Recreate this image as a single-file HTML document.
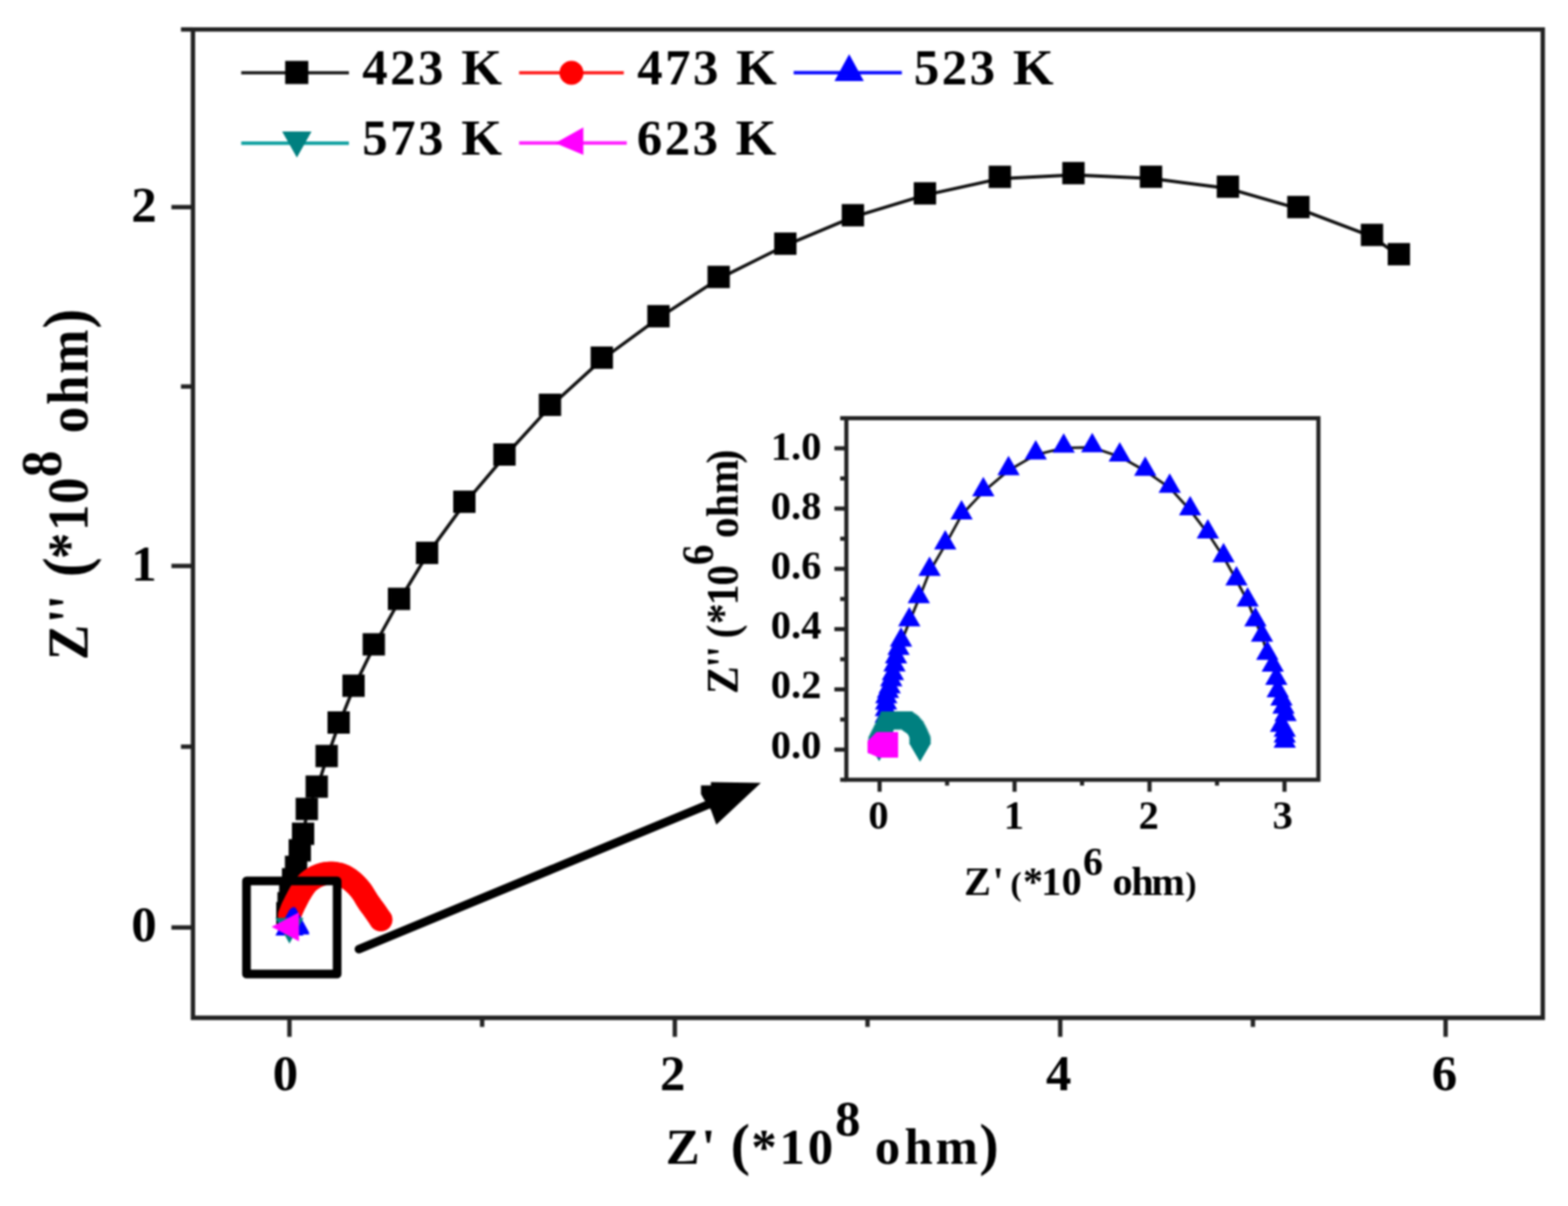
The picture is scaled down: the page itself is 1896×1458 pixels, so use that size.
<!DOCTYPE html>
<html><head><meta charset="utf-8"><title>Nyquist plot</title>
<style>html,body{margin:0;padding:0;background:#fff;} svg{display:block;}</style></head>
<body><svg width="1896" height="1458" viewBox="0 0 1896 1458"><defs><filter id="soft" filterUnits="userSpaceOnUse" x="0" y="0" width="1896" height="1458" color-interpolation-filters="sRGB"><feGaussianBlur stdDeviation="1.0"/></filter></defs><rect width="1896" height="1458" fill="#fff"/><g filter="url(#soft)"><path d="M233.3,35.6 H1865.5 V1230.5 H233.3 Z" fill="none" stroke="#222" stroke-width="5.3" stroke-linejoin="miter"/>
<line x1="207.3" y1="1121.30" x2="233.3" y2="1121.30" stroke="#222" stroke-width="5.3"/>
<line x1="207.3" y1="684.20" x2="233.3" y2="684.20" stroke="#222" stroke-width="5.3"/>
<line x1="207.3" y1="250.40" x2="233.3" y2="250.40" stroke="#222" stroke-width="5.3"/>
<line x1="218.8" y1="902.70" x2="233.3" y2="902.70" stroke="#222" stroke-width="5.3"/>
<line x1="218.8" y1="467.30" x2="233.3" y2="467.30" stroke="#222" stroke-width="5.3"/>
<line x1="218.8" y1="35.6" x2="233.3" y2="35.6" stroke="#222" stroke-width="5.3"/>
<line x1="350.00" y1="1230.5" x2="350.00" y2="1253.5" stroke="#222" stroke-width="5.3"/>
<line x1="816.00" y1="1230.5" x2="816.00" y2="1253.5" stroke="#222" stroke-width="5.3"/>
<line x1="1282.00" y1="1230.5" x2="1282.00" y2="1253.5" stroke="#222" stroke-width="5.3"/>
<line x1="1748.00" y1="1230.5" x2="1748.00" y2="1253.5" stroke="#222" stroke-width="5.3"/>
<line x1="583.00" y1="1230.5" x2="583.00" y2="1241.5" stroke="#222" stroke-width="5.3"/>
<line x1="1049.00" y1="1230.5" x2="1049.00" y2="1241.5" stroke="#222" stroke-width="5.3"/>
<line x1="1515.00" y1="1230.5" x2="1515.00" y2="1241.5" stroke="#222" stroke-width="5.3"/>
<text x="189.6" y="1138.3" text-anchor="end" style="font-family:'Liberation Serif','Times New Roman',serif;font-weight:bold;font-size:61.5px">0</text>
<text x="189.6" y="702.0" text-anchor="end" style="font-family:'Liberation Serif','Times New Roman',serif;font-weight:bold;font-size:61.5px">1</text>
<text x="189.6" y="268.1" text-anchor="end" style="font-family:'Liberation Serif','Times New Roman',serif;font-weight:bold;font-size:61.5px">2</text>
<text x="345.0" y="1317.6" text-anchor="middle" style="font-family:'Liberation Serif','Times New Roman',serif;font-weight:bold;font-size:61.5px">0</text>
<text x="813.4" y="1317.6" text-anchor="middle" style="font-family:'Liberation Serif','Times New Roman',serif;font-weight:bold;font-size:61.5px">2</text>
<text x="1280.0" y="1317.6" text-anchor="middle" style="font-family:'Liberation Serif','Times New Roman',serif;font-weight:bold;font-size:61.5px">4</text>
<text x="1746.6" y="1317.6" text-anchor="middle" style="font-family:'Liberation Serif','Times New Roman',serif;font-weight:bold;font-size:61.5px">6</text>
<text x="804.96 848.12 908.45 942.48 976.66" y="1406.80" style="font-family:'Liberation Serif','Times New Roman',serif;font-weight:bold;font-size:61.5px" fill="#000">Z&#39;*10</text><text x="883.62" y="1406.80" style="font-family:'Liberation Serif','Times New Roman',serif;font-weight:bold;font-size:70px" fill="#000">(</text>
<text x="1009.66" y="1373.40" style="font-family:'Liberation Serif','Times New Roman',serif;font-weight:bold;font-size:61.5px" fill="#000">8</text>
<text x="1057.86 1093.87 1131.35" y="1406.80" style="font-family:'Liberation Serif','Times New Roman',serif;font-weight:bold;font-size:61.5px" fill="#000">ohm</text><text x="1184.34" y="1406.80" style="font-family:'Liberation Serif','Times New Roman',serif;font-weight:bold;font-size:70px" fill="#000">)</text>
<g transform="translate(106.1,795.0) rotate(-90) scale(1,1.08)"><text x="-3.06 41.52 58.12 118.94 152.88 185.66 271.36 305.51 343.28" y="0" style="font-family:'Liberation Serif','Times New Roman',serif;font-weight:bold;font-size:64px">Z&#39;&#39;*10ohm</text><text x="97.34 397.68" y="0" style="font-family:'Liberation Serif','Times New Roman',serif;font-weight:bold;font-size:72px">()</text><text x="218.17" y="-30.00" style="font-family:'Liberation Serif','Times New Roman',serif;font-weight:bold;font-size:64px">8</text></g>
<line x1="291.7" y1="88" x2="421.9" y2="88" stroke="#222" stroke-width="4.2"/>
<rect x="344.80" y="73.60" width="28" height="28" fill="#000"/>
<line x1="627.7" y1="88" x2="754.3" y2="88" stroke="#ff2020" stroke-width="4.2"/>
<circle cx="691.00" cy="88.00" r="14.5" fill="#ff0000"/>
<line x1="959.7" y1="87.9" x2="1090.5" y2="87.9" stroke="#1010ff" stroke-width="4.2"/>
<polygon points="1026.8,65.5 1044.5,98 1009,98" fill="#0000ff"/>
<line x1="291.7" y1="173.1" x2="421.9" y2="173.1" stroke="#10a0a0" stroke-width="4.2"/>
<polygon points="341.2,158.9 376.7,158.9 359,190.6" fill="#008080"/>
<line x1="627.7" y1="172.9" x2="757.9" y2="172.9" stroke="#ff20ff" stroke-width="4.2"/>
<polygon points="671.4,172.9 705.4,153.9 705.4,187.3" fill="#ff00ff"/>
<text x="438.10 471.85 505.60" y="102.20" style="font-family:'Liberation Serif','Times New Roman',serif;font-weight:bold;font-size:61.5px" fill="#000">423</text><text transform="translate(557.73,102.20) scale(1.03,1)" x="0" y="0" style="font-family:'Liberation Serif','Times New Roman',serif;font-weight:bold;font-size:61.5px" fill="#000">K</text>
<text x="770.40 804.15 837.90" y="102.20" style="font-family:'Liberation Serif','Times New Roman',serif;font-weight:bold;font-size:61.5px" fill="#000">473</text><text transform="translate(890.02,102.20) scale(1.03,1)" x="0" y="0" style="font-family:'Liberation Serif','Times New Roman',serif;font-weight:bold;font-size:61.5px" fill="#000">K</text>
<text x="1105.10 1138.85 1172.60" y="102.20" style="font-family:'Liberation Serif','Times New Roman',serif;font-weight:bold;font-size:61.5px" fill="#000">523</text><text transform="translate(1224.72,102.20) scale(1.03,1)" x="0" y="0" style="font-family:'Liberation Serif','Times New Roman',serif;font-weight:bold;font-size:61.5px" fill="#000">K</text>
<text x="438.10 471.85 505.60" y="187.10" style="font-family:'Liberation Serif','Times New Roman',serif;font-weight:bold;font-size:61.5px" fill="#000">573</text><text transform="translate(557.73,187.10) scale(1.03,1)" x="0" y="0" style="font-family:'Liberation Serif','Times New Roman',serif;font-weight:bold;font-size:61.5px" fill="#000">K</text>
<text x="770.00 803.75 837.50" y="187.10" style="font-family:'Liberation Serif','Times New Roman',serif;font-weight:bold;font-size:61.5px" fill="#000">623</text><text transform="translate(889.62,187.10) scale(1.03,1)" x="0" y="0" style="font-family:'Liberation Serif','Times New Roman',serif;font-weight:bold;font-size:61.5px" fill="#000">K</text>
<polyline points="347.8,1106.1 349.3,1094.1 351.3,1080.1 354.7,1065.1 358.3,1050.1 362.8,1030.1 366.8,1010.1 371.3,980.1 383.3,953.1 395.3,916.1 409.8,875.6 427.8,831.1 452.3,781.1 482.8,726.1 516.7,670.5 561.8,608.7 610.3,551.6 665.3,491.5 728.0,434.5 796.5,384.4 869.3,336.9 949.9,296.7 1031.6,262.3 1118.7,235.9 1209.3,215.9 1298.3,211.4 1392.1,215.8 1485.1,227.8 1570.3,252.4 1659.3,286.1 1691.8,309.4" fill="none" stroke="#111" stroke-width="4.0" stroke-linejoin="round"/>
<rect x="334.00" y="1090.50" width="27" height="27" fill="#000"/>
<rect x="335.50" y="1078.50" width="27" height="27" fill="#000"/>
<rect x="337.50" y="1064.50" width="27" height="27" fill="#000"/>
<rect x="340.90" y="1049.50" width="27" height="27" fill="#000"/>
<rect x="344.50" y="1034.50" width="27" height="27" fill="#000"/>
<rect x="349.00" y="1014.50" width="27" height="27" fill="#000"/>
<rect x="353.00" y="994.50" width="27" height="27" fill="#000"/>
<rect x="357.50" y="964.50" width="27" height="27" fill="#000"/>
<rect x="369.50" y="937.50" width="27" height="27" fill="#000"/>
<rect x="381.50" y="900.50" width="27" height="27" fill="#000"/>
<rect x="396.00" y="860.00" width="27" height="27" fill="#000"/>
<rect x="414.00" y="815.50" width="27" height="27" fill="#000"/>
<rect x="438.50" y="765.50" width="27" height="27" fill="#000"/>
<rect x="469.00" y="710.50" width="27" height="27" fill="#000"/>
<rect x="502.90" y="654.90" width="27" height="27" fill="#000"/>
<rect x="548.00" y="593.10" width="27" height="27" fill="#000"/>
<rect x="596.50" y="536.00" width="27" height="27" fill="#000"/>
<rect x="651.50" y="475.90" width="27" height="27" fill="#000"/>
<rect x="714.20" y="418.90" width="27" height="27" fill="#000"/>
<rect x="782.70" y="368.80" width="27" height="27" fill="#000"/>
<rect x="855.50" y="321.30" width="27" height="27" fill="#000"/>
<rect x="936.10" y="281.10" width="27" height="27" fill="#000"/>
<rect x="1017.80" y="246.70" width="27" height="27" fill="#000"/>
<rect x="1104.90" y="220.30" width="27" height="27" fill="#000"/>
<rect x="1195.50" y="200.30" width="27" height="27" fill="#000"/>
<rect x="1284.50" y="195.80" width="27" height="27" fill="#000"/>
<rect x="1378.30" y="200.20" width="27" height="27" fill="#000"/>
<rect x="1471.30" y="212.20" width="27" height="27" fill="#000"/>
<rect x="1556.50" y="236.80" width="27" height="27" fill="#000"/>
<rect x="1645.50" y="270.50" width="27" height="27" fill="#000"/>
<rect x="1678.00" y="293.80" width="27" height="27" fill="#000"/>
<circle cx="350.00" cy="1107.00" r="14.0" fill="#ff0000"/>
<circle cx="351.08" cy="1104.20" r="14.0" fill="#ff0000"/>
<circle cx="352.40" cy="1100.82" r="14.0" fill="#ff0000"/>
<circle cx="353.56" cy="1098.00" r="14.0" fill="#ff0000"/>
<circle cx="354.85" cy="1095.15" r="14.0" fill="#ff0000"/>
<circle cx="356.38" cy="1092.06" r="14.0" fill="#ff0000"/>
<circle cx="357.77" cy="1089.39" r="14.0" fill="#ff0000"/>
<circle cx="359.25" cy="1086.56" r="14.0" fill="#ff0000"/>
<circle cx="360.77" cy="1083.62" r="14.0" fill="#ff0000"/>
<circle cx="362.43" cy="1080.59" r="14.0" fill="#ff0000"/>
<circle cx="364.00" cy="1078.00" r="14.0" fill="#ff0000"/>
<circle cx="365.73" cy="1075.25" r="14.0" fill="#ff0000"/>
<circle cx="367.59" cy="1072.38" r="14.0" fill="#ff0000"/>
<circle cx="369.66" cy="1069.56" r="14.0" fill="#ff0000"/>
<circle cx="372.00" cy="1067.00" r="14.0" fill="#ff0000"/>
<circle cx="374.70" cy="1064.68" r="14.0" fill="#ff0000"/>
<circle cx="377.69" cy="1062.52" r="14.0" fill="#ff0000"/>
<circle cx="380.84" cy="1060.60" r="14.0" fill="#ff0000"/>
<circle cx="384.00" cy="1059.00" r="14.0" fill="#ff0000"/>
<circle cx="387.16" cy="1057.74" r="14.0" fill="#ff0000"/>
<circle cx="390.38" cy="1056.77" r="14.0" fill="#ff0000"/>
<circle cx="393.66" cy="1056.09" r="14.0" fill="#ff0000"/>
<circle cx="397.00" cy="1055.70" r="14.0" fill="#ff0000"/>
<circle cx="400.45" cy="1055.57" r="14.0" fill="#ff0000"/>
<circle cx="404.00" cy="1055.71" r="14.0" fill="#ff0000"/>
<circle cx="407.55" cy="1056.17" r="14.0" fill="#ff0000"/>
<circle cx="411.00" cy="1057.00" r="14.0" fill="#ff0000"/>
<circle cx="414.34" cy="1058.23" r="14.0" fill="#ff0000"/>
<circle cx="417.62" cy="1059.83" r="14.0" fill="#ff0000"/>
<circle cx="420.84" cy="1061.76" r="14.0" fill="#ff0000"/>
<circle cx="423.37" cy="1063.53" r="14.0" fill="#ff0000"/>
<circle cx="425.88" cy="1065.51" r="14.0" fill="#ff0000"/>
<circle cx="428.39" cy="1067.75" r="14.0" fill="#ff0000"/>
<circle cx="430.86" cy="1070.19" r="14.0" fill="#ff0000"/>
<circle cx="433.23" cy="1072.74" r="14.0" fill="#ff0000"/>
<circle cx="435.47" cy="1075.35" r="14.0" fill="#ff0000"/>
<circle cx="437.52" cy="1078.02" r="14.0" fill="#ff0000"/>
<circle cx="439.41" cy="1080.87" r="14.0" fill="#ff0000"/>
<circle cx="441.19" cy="1083.79" r="14.0" fill="#ff0000"/>
<circle cx="442.89" cy="1086.66" r="14.0" fill="#ff0000"/>
<circle cx="444.58" cy="1089.37" r="14.0" fill="#ff0000"/>
<circle cx="446.67" cy="1092.39" r="14.0" fill="#ff0000"/>
<circle cx="448.70" cy="1095.15" r="14.0" fill="#ff0000"/>
<circle cx="450.67" cy="1097.79" r="14.0" fill="#ff0000"/>
<circle cx="452.61" cy="1100.45" r="14.0" fill="#ff0000"/>
<circle cx="454.65" cy="1103.38" r="14.0" fill="#ff0000"/>
<circle cx="456.40" cy="1105.93" r="14.0" fill="#ff0000"/>
<circle cx="458.45" cy="1108.96" r="14.0" fill="#ff0000"/>
<circle cx="460.29" cy="1111.70" r="14.0" fill="#ff0000"/>
<circle cx="460.50" cy="1112.00" r="14.0" fill="#ff0000"/>
<polygon points="350.00,1099.93 367.00,1130.93 333.00,1130.93" fill="#0000ff"/>
<polygon points="351.50,1097.83 368.50,1128.83 334.50,1128.83" fill="#0000ff"/>
<polygon points="353.50,1096.33 370.50,1127.33 336.50,1127.33" fill="#0000ff"/>
<polygon points="355.50,1095.73 372.50,1126.73 338.50,1126.73" fill="#0000ff"/>
<polygon points="357.00,1096.83 374.00,1127.83 340.00,1127.83" fill="#0000ff"/>
<polygon points="357.30,1098.83 374.30,1129.83 340.30,1129.83" fill="#0000ff"/>
<polygon points="333.00,1109.67 367.00,1109.67 350.00,1140.67" fill="#008080"/>
<polygon points="328.50,1120.60 361.50,1103.10 361.50,1138.10" fill="#ff00ff"/>
<rect x="298.05" y="1064.95" width="109.6" height="112.6" fill="none" stroke="#000" stroke-width="10.5" stroke-linejoin="round"/>
<line x1="434" y1="1147.5" x2="864" y2="969.5" stroke="#000" stroke-width="10.3" stroke-linecap="round"/>
<polygon points="847.6,949.5 859.6,949.5 859.6,945.4 920,946.5 866.2,997 859.6,979 851,966 847.6,960" fill="#000"/>
<rect x="1023.4" y="505.56999999999994" width="570.80" height="437.16" fill="#fff" stroke="#222" stroke-width="5.0"/>
<line x1="1008.9" y1="906.30" x2="1023.4" y2="906.30" stroke="#222" stroke-width="5.0"/>
<line x1="1008.9" y1="833.44" x2="1023.4" y2="833.44" stroke="#222" stroke-width="5.0"/>
<line x1="1008.9" y1="760.58" x2="1023.4" y2="760.58" stroke="#222" stroke-width="5.0"/>
<line x1="1008.9" y1="687.72" x2="1023.4" y2="687.72" stroke="#222" stroke-width="5.0"/>
<line x1="1008.9" y1="614.86" x2="1023.4" y2="614.86" stroke="#222" stroke-width="5.0"/>
<line x1="1008.9" y1="542.00" x2="1023.4" y2="542.00" stroke="#222" stroke-width="5.0"/>
<line x1="1015.9" y1="942.73" x2="1023.4" y2="942.73" stroke="#222" stroke-width="5.0"/>
<line x1="1015.9" y1="869.87" x2="1023.4" y2="869.87" stroke="#222" stroke-width="5.0"/>
<line x1="1015.9" y1="797.01" x2="1023.4" y2="797.01" stroke="#222" stroke-width="5.0"/>
<line x1="1015.9" y1="724.15" x2="1023.4" y2="724.15" stroke="#222" stroke-width="5.0"/>
<line x1="1015.9" y1="651.29" x2="1023.4" y2="651.29" stroke="#222" stroke-width="5.0"/>
<line x1="1015.9" y1="578.43" x2="1023.4" y2="578.43" stroke="#222" stroke-width="5.0"/>
<line x1="1015.9" y1="505.57" x2="1023.4" y2="505.57" stroke="#222" stroke-width="5.0"/>
<line x1="1063.60" y1="942.7299999999999" x2="1063.60" y2="957.2299999999999" stroke="#222" stroke-width="5.0"/>
<line x1="1226.80" y1="942.7299999999999" x2="1226.80" y2="957.2299999999999" stroke="#222" stroke-width="5.0"/>
<line x1="1390.00" y1="942.7299999999999" x2="1390.00" y2="957.2299999999999" stroke="#222" stroke-width="5.0"/>
<line x1="1553.20" y1="942.7299999999999" x2="1553.20" y2="957.2299999999999" stroke="#222" stroke-width="5.0"/>
<line x1="1145.20" y1="942.7299999999999" x2="1145.20" y2="949.7299999999999" stroke="#222" stroke-width="5.0"/>
<line x1="1308.40" y1="942.7299999999999" x2="1308.40" y2="949.7299999999999" stroke="#222" stroke-width="5.0"/>
<line x1="1471.60" y1="942.7299999999999" x2="1471.60" y2="949.7299999999999" stroke="#222" stroke-width="5.0"/>
<text x="993.2" y="916.50" text-anchor="end" style="font-family:'Liberation Serif','Times New Roman',serif;font-weight:bold;font-size:49px">0.0</text>
<text x="993.2" y="844.34" text-anchor="end" style="font-family:'Liberation Serif','Times New Roman',serif;font-weight:bold;font-size:49px">0.2</text>
<text x="993.2" y="772.18" text-anchor="end" style="font-family:'Liberation Serif','Times New Roman',serif;font-weight:bold;font-size:49px">0.4</text>
<text x="993.2" y="700.02" text-anchor="end" style="font-family:'Liberation Serif','Times New Roman',serif;font-weight:bold;font-size:49px">0.6</text>
<text x="993.2" y="627.86" text-anchor="end" style="font-family:'Liberation Serif','Times New Roman',serif;font-weight:bold;font-size:49px">0.8</text>
<text x="993.2" y="555.70" text-anchor="end" style="font-family:'Liberation Serif','Times New Roman',serif;font-weight:bold;font-size:49px">1.0</text>
<text x="1062.25" y="1001.6" text-anchor="middle" style="font-family:'Liberation Serif','Times New Roman',serif;font-weight:bold;font-size:49px">0</text>
<text x="1226.0" y="1001.6" text-anchor="middle" style="font-family:'Liberation Serif','Times New Roman',serif;font-weight:bold;font-size:49px">1</text>
<text x="1389.0" y="1001.6" text-anchor="middle" style="font-family:'Liberation Serif','Times New Roman',serif;font-weight:bold;font-size:49px">2</text>
<text x="1551.0" y="1001.6" text-anchor="middle" style="font-family:'Liberation Serif','Times New Roman',serif;font-weight:bold;font-size:49px">3</text>
<text x="1165.68 1200.31 1237.09 1258.92 1283.85" y="1082.10" style="font-family:'Liberation Serif','Times New Roman',serif;font-weight:bold;font-size:48.5px" fill="#000">Z&#39;*10</text><text x="1221.80" y="1082.10" style="font-family:'Liberation Serif','Times New Roman',serif;font-weight:bold;font-size:41px" fill="#000">(</text>
<text x="1309.44" y="1058.20" style="font-family:'Liberation Serif','Times New Roman',serif;font-weight:bold;font-size:48.5px" fill="#000">6</text>
<text x="1345.15 1367.89 1392.30" y="1082.10" style="font-family:'Liberation Serif','Times New Roman',serif;font-weight:bold;font-size:48.5px" fill="#000">ohm</text><text x="1433.18" y="1082.10" style="font-family:'Liberation Serif','Times New Roman',serif;font-weight:bold;font-size:41px" fill="#000">)</text>
<g transform="translate(891.5,836.6) rotate(-90) scale(1,1.08)"><text x="-2.39 29.49 41.79 64.80 82.22 104.80 128.50 186.10 211.45 239.26 276.39" y="0" style="font-family:'Liberation Serif','Times New Roman',serif;font-weight:bold;font-size:50px">Z&#39;&#39;(*10ohm)</text><text x="153.39" y="-27.00" style="font-family:'Liberation Serif','Times New Roman',serif;font-weight:bold;font-size:50px">6</text></g>
<polyline points="1063.5,905.0 1065.3,898.0 1067.3,891.0 1069.3,883.0 1070.8,875.0 1071.3,868.0 1071.5,860.0 1071.7,852.0 1072.0,844.3 1074.0,838.0 1076.1,832.3 1078.0,824.0 1080.0,816.3 1081.9,806.0 1083.8,796.1 1086.8,786.0 1089.8,775.8 1099.8,751.3 1111.3,723.3 1124.3,690.5 1143.3,658.3 1163.0,622.2 1189.3,594.2 1219.8,568.6 1252.7,549.7 1286.5,541.5 1321.0,540.9 1354.3,552.2 1385.1,569.5 1414.7,590.0 1439.4,617.2 1460.8,645.2 1479.8,674.0 1495.4,702.0 1508.9,727.5 1518.3,751.3 1526.3,770.0 1532.7,791.8 1539.3,806.2 1543.6,822.2 1545.3,837.2 1549.8,847.2 1552.3,857.0 1554.8,865.9 1549.3,878.8 1553.8,885.0 1553.8,892.0 1553.8,898.2" fill="none" stroke="#151515" stroke-width="3.2" stroke-linejoin="round"/>
<polygon points="1063.20,887.33 1076.70,910.83 1049.70,910.83" fill="#0000ff"/>
<polygon points="1065.00,880.33 1078.50,903.83 1051.50,903.83" fill="#0000ff"/>
<polygon points="1067.00,873.33 1080.50,896.83 1053.50,896.83" fill="#0000ff"/>
<polygon points="1069.00,865.33 1082.50,888.83 1055.50,888.83" fill="#0000ff"/>
<polygon points="1070.50,857.33 1084.00,880.83 1057.00,880.83" fill="#0000ff"/>
<polygon points="1071.00,850.33 1084.50,873.83 1057.50,873.83" fill="#0000ff"/>
<polygon points="1071.20,842.33 1084.70,865.83 1057.70,865.83" fill="#0000ff"/>
<polygon points="1071.40,834.33 1084.90,857.83 1057.90,857.83" fill="#0000ff"/>
<polygon points="1071.70,826.63 1085.20,850.13 1058.20,850.13" fill="#0000ff"/>
<polygon points="1073.70,820.33 1087.20,843.83 1060.20,843.83" fill="#0000ff"/>
<polygon points="1075.80,814.63 1089.30,838.13 1062.30,838.13" fill="#0000ff"/>
<polygon points="1077.70,806.33 1091.20,829.83 1064.20,829.83" fill="#0000ff"/>
<polygon points="1079.70,798.63 1093.20,822.13 1066.20,822.13" fill="#0000ff"/>
<polygon points="1081.60,788.33 1095.10,811.83 1068.10,811.83" fill="#0000ff"/>
<polygon points="1083.50,778.43 1097.00,801.93 1070.00,801.93" fill="#0000ff"/>
<polygon points="1086.50,768.33 1100.00,791.83 1073.00,791.83" fill="#0000ff"/>
<polygon points="1089.50,758.13 1103.00,781.63 1076.00,781.63" fill="#0000ff"/>
<polygon points="1099.50,733.63 1113.00,757.13 1086.00,757.13" fill="#0000ff"/>
<polygon points="1111.00,705.63 1124.50,729.13 1097.50,729.13" fill="#0000ff"/>
<polygon points="1124.00,672.83 1137.50,696.33 1110.50,696.33" fill="#0000ff"/>
<polygon points="1143.00,640.63 1156.50,664.13 1129.50,664.13" fill="#0000ff"/>
<polygon points="1162.70,604.53 1176.20,628.03 1149.20,628.03" fill="#0000ff"/>
<polygon points="1189.00,576.53 1202.50,600.03 1175.50,600.03" fill="#0000ff"/>
<polygon points="1219.50,550.93 1233.00,574.43 1206.00,574.43" fill="#0000ff"/>
<polygon points="1252.40,532.03 1265.90,555.53 1238.90,555.53" fill="#0000ff"/>
<polygon points="1286.20,523.83 1299.70,547.33 1272.70,547.33" fill="#0000ff"/>
<polygon points="1320.70,523.23 1334.20,546.73 1307.20,546.73" fill="#0000ff"/>
<polygon points="1354.00,534.53 1367.50,558.03 1340.50,558.03" fill="#0000ff"/>
<polygon points="1384.80,551.83 1398.30,575.33 1371.30,575.33" fill="#0000ff"/>
<polygon points="1414.40,572.33 1427.90,595.83 1400.90,595.83" fill="#0000ff"/>
<polygon points="1439.10,599.53 1452.60,623.03 1425.60,623.03" fill="#0000ff"/>
<polygon points="1460.50,627.53 1474.00,651.03 1447.00,651.03" fill="#0000ff"/>
<polygon points="1479.50,656.33 1493.00,679.83 1466.00,679.83" fill="#0000ff"/>
<polygon points="1495.10,684.33 1508.60,707.83 1481.60,707.83" fill="#0000ff"/>
<polygon points="1508.60,709.83 1522.10,733.33 1495.10,733.33" fill="#0000ff"/>
<polygon points="1518.00,733.63 1531.50,757.13 1504.50,757.13" fill="#0000ff"/>
<polygon points="1526.00,752.33 1539.50,775.83 1512.50,775.83" fill="#0000ff"/>
<polygon points="1532.40,774.13 1545.90,797.63 1518.90,797.63" fill="#0000ff"/>
<polygon points="1539.00,788.53 1552.50,812.03 1525.50,812.03" fill="#0000ff"/>
<polygon points="1543.30,804.53 1556.80,828.03 1529.80,828.03" fill="#0000ff"/>
<polygon points="1545.00,819.53 1558.50,843.03 1531.50,843.03" fill="#0000ff"/>
<polygon points="1549.50,829.53 1563.00,853.03 1536.00,853.03" fill="#0000ff"/>
<polygon points="1552.00,839.33 1565.50,862.83 1538.50,862.83" fill="#0000ff"/>
<polygon points="1554.50,848.23 1568.00,871.73 1541.00,871.73" fill="#0000ff"/>
<polygon points="1549.00,861.13 1562.50,884.63 1535.50,884.63" fill="#0000ff"/>
<polygon points="1553.50,867.33 1567.00,890.83 1540.00,890.83" fill="#0000ff"/>
<polygon points="1553.50,874.33 1567.00,897.83 1540.00,897.83" fill="#0000ff"/>
<polygon points="1553.50,880.53 1567.00,904.03 1540.00,904.03" fill="#0000ff"/>
<polygon points="1049.50,897.33 1076.50,897.33 1063.00,920.33" fill="#008080"/>
<polygon points="1049.35,895.33 1076.35,895.33 1062.85,918.33" fill="#008080"/>
<polygon points="1049.20,893.33 1076.20,893.33 1062.70,916.33" fill="#008080"/>
<polygon points="1049.45,890.73 1076.45,890.73 1062.95,913.73" fill="#008080"/>
<polygon points="1050.34,888.92 1077.34,888.92 1063.84,911.92" fill="#008080"/>
<polygon points="1051.23,887.12 1078.23,887.12 1064.73,910.12" fill="#008080"/>
<polygon points="1052.12,885.31 1079.12,885.31 1065.62,908.31" fill="#008080"/>
<polygon points="1053.01,883.51 1080.01,883.51 1066.51,906.51" fill="#008080"/>
<polygon points="1053.90,881.70 1080.90,881.70 1067.40,904.70" fill="#008080"/>
<polygon points="1054.79,879.90 1081.79,879.90 1068.29,902.90" fill="#008080"/>
<polygon points="1055.69,878.09 1082.69,878.09 1069.19,901.09" fill="#008080"/>
<polygon points="1056.58,876.28 1083.58,876.28 1070.08,899.28" fill="#008080"/>
<polygon points="1057.47,874.48 1084.47,874.48 1070.97,897.48" fill="#008080"/>
<polygon points="1058.36,872.67 1085.36,872.67 1071.86,895.67" fill="#008080"/>
<polygon points="1059.25,870.87 1086.25,870.87 1072.75,893.87" fill="#008080"/>
<polygon points="1060.14,869.06 1087.14,869.06 1073.64,892.06" fill="#008080"/>
<polygon points="1061.03,867.26 1088.03,867.26 1074.53,890.26" fill="#008080"/>
<polygon points="1061.93,865.45 1088.93,865.45 1075.43,888.45" fill="#008080"/>
<polygon points="1062.82,863.64 1089.82,863.64 1076.32,886.64" fill="#008080"/>
<polygon points="1063.71,861.84 1090.71,861.84 1077.21,884.84" fill="#008080"/>
<polygon points="1064.60,860.03 1091.60,860.03 1078.10,883.03" fill="#008080"/>
<polygon points="1066.67,860.03 1093.67,860.03 1080.17,883.03" fill="#008080"/>
<polygon points="1068.73,860.03 1095.73,860.03 1082.23,883.03" fill="#008080"/>
<polygon points="1070.80,860.03 1097.80,860.03 1084.30,883.03" fill="#008080"/>
<polygon points="1072.87,860.03 1099.87,860.03 1086.37,883.03" fill="#008080"/>
<polygon points="1074.93,860.03 1101.93,860.03 1088.43,883.03" fill="#008080"/>
<polygon points="1077.00,860.03 1104.00,860.03 1090.50,883.03" fill="#008080"/>
<polygon points="1078.67,861.21 1105.67,861.21 1092.17,884.21" fill="#008080"/>
<polygon points="1080.33,862.39 1107.33,862.39 1093.83,885.39" fill="#008080"/>
<polygon points="1082.00,863.57 1109.00,863.57 1095.50,886.57" fill="#008080"/>
<polygon points="1083.67,864.74 1110.67,864.74 1097.17,887.74" fill="#008080"/>
<polygon points="1085.17,866.11 1112.17,866.11 1098.67,889.11" fill="#008080"/>
<polygon points="1086.50,867.67 1113.50,867.67 1100.00,890.67" fill="#008080"/>
<polygon points="1087.83,869.22 1114.83,869.22 1101.33,892.22" fill="#008080"/>
<polygon points="1089.17,870.78 1116.17,870.78 1102.67,893.78" fill="#008080"/>
<polygon points="1090.50,872.33 1117.50,872.33 1104.00,895.33" fill="#008080"/>
<polygon points="1091.40,874.13 1118.40,874.13 1104.90,897.13" fill="#008080"/>
<polygon points="1092.30,875.93 1119.30,875.93 1105.80,898.93" fill="#008080"/>
<polygon points="1093.20,877.73 1120.20,877.73 1106.70,900.73" fill="#008080"/>
<polygon points="1094.10,879.53 1121.10,879.53 1107.60,902.53" fill="#008080"/>
<polygon points="1095.00,881.33 1122.00,881.33 1108.50,904.33" fill="#008080"/>
<polygon points="1095.89,883.33 1122.89,883.33 1109.39,906.33" fill="#008080"/>
<polygon points="1096.78,885.33 1123.78,885.33 1110.28,908.33" fill="#008080"/>
<polygon points="1097.67,887.33 1124.67,887.33 1111.17,910.33" fill="#008080"/>
<polygon points="1098.56,889.33 1125.56,889.33 1112.06,912.33" fill="#008080"/>
<polygon points="1099.00,891.43 1126.00,891.43 1112.50,914.43" fill="#008080"/>
<polygon points="1099.00,893.63 1126.00,893.63 1112.50,916.63" fill="#008080"/>
<polygon points="1099.00,895.83 1126.00,895.83 1112.50,918.83" fill="#008080"/>
<polygon points="1099.00,898.03 1126.00,898.03 1112.50,921.03" fill="#008080"/>
<polygon points="1049,896 1060,885 1086,885 1086,916 1063,916 1049,910" fill="#ff00ff"/></g></svg></body></html>
